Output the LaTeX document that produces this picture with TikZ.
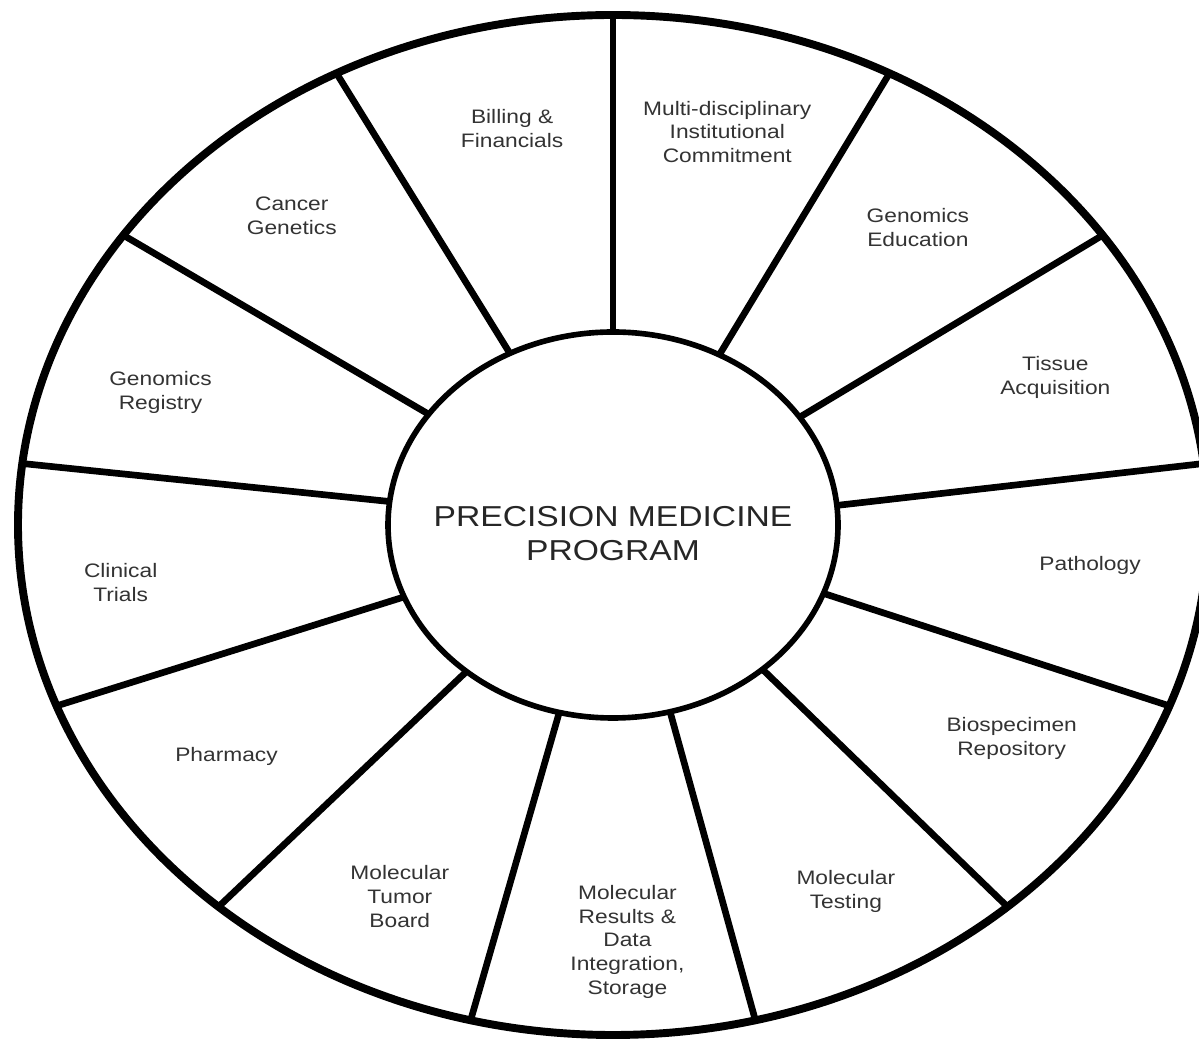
\documentclass[tikz,border=0pt]{standalone}
\usepackage{fontspec}
\setmainfont[FakeStretch=1.1667]{Liberation Sans}
\usetikzlibrary{shapes.geometric}
\tikzstyle{hub_node} = [ellipse, draw, line width=3.2pt, outer sep=0pt, inner sep=0pt, minimum width=9cm, minimum height=7.72cm]
\tikzstyle{hub_text} = [align=center, font=\fontsize{16.4}{19.5}\selectfont, text=black!85]
\tikzstyle{area_label} = [align=center, font=\fontsize{11.1}{13.5}\selectfont, text=black!80]
\tikzstyle{edge_spoke} = [line width=3.8pt]
\tikzstyle{edge_rim} = [line width=4.5pt]

\begin{document}
\begin{tikzpicture}[x=0.023333cm, y=0.02cm]
\useasboundingbox (0,0) rectangle (23.98cm,20.78cm);
\def\seg{360/13}
\def\ro{510}
\node (hub) at (12.26cm,10.28cm) [hub_node] {};
\node (title) at ([yshift=-0.17cm]hub.center) [hub_text] {PRECISION MEDICINE\\PROGRAM};

\draw[edge_rim] (hub.center) ellipse [x radius=11.9cm, y radius=10.2cm];
\foreach \k in {0,...,12} {
  \pgfmathsetmacro\ang{90-\k*\seg}
  \pgfmathsetmacro\dir{atan2(sin(\ang),1.16667*cos(\ang))}
  \coordinate (rim\k) at ([shift={(\ang:\ro)}]hub.center);
  \draw[edge_spoke] (hub.\dir) -- (rim\k);
}

% labels: angle / radius / text
\foreach \pa/\pr/\name [count=\k from 0] in {
  {76.0/405/{Multi-disciplinary\\Institutional\\Commitment}},
  {48.7/396/{Genomics\\Education}},
  {21.3/407/{Tissue\\Acquisition}},
  {-5.7/411/{Pathology}},
  {-32.0/403/{Biospecimen\\Repository}},
  {-61.4/417/{Molecular\\Testing}},
  {-88.3/417/{Molecular\\Results \&\\Data\\Integration,\\Storage}},
  {-116.2/414/{Molecular\\Tumor\\Board}},
  {-145.1/404/{Pharmacy}},
  {-172.2/426/{Clinical\\Trials}},
  {161.1/410/{Genomics\\Registry}},
  {131.7/414/{Cancer\\Genetics}},
  {102.3/406/{Billing \&\\Financials}}} {
  \node (area\k) at ([shift={(\pa:\pr)}]hub.center) [area_label] {\name};
}
\end{tikzpicture}
\end{document}
